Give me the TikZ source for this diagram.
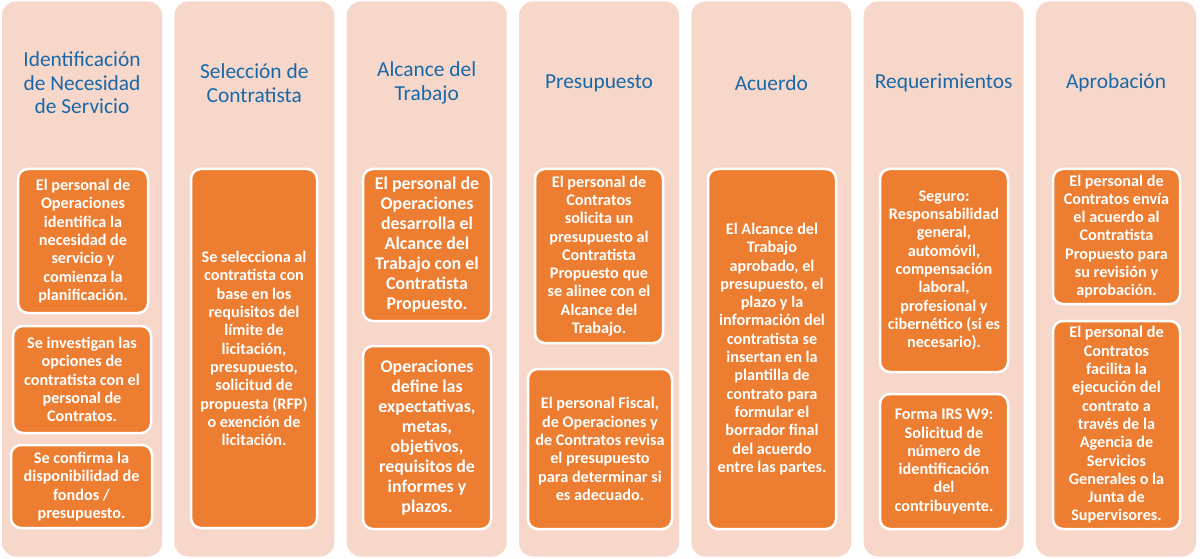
\documentclass[tikz,border=0pt]{standalone}
\usepackage{fontspec}
\setmainfont{Carlito}
\definecolor{peach}{RGB}{248,215,203}
\definecolor{orng}{RGB}{237,125,49}
\definecolor{ttlblue}{RGB}{24,104,168}
\begin{document}
\begin{tikzpicture}
[
	x=1pt,y=-1pt,
	col/.style={rectangle,rounded corners=14,fill=peach,minimum width=160,minimum height=555,inner sep=0},
	ttl/.style={align=center,text=ttlblue,font=\fontsize{21.4}{23.5}\selectfont},
	bx/.style={rectangle,rounded corners=10,draw=white,line width=2.5,fill=orng,text=white,align=center,inner sep=0,
		font=\fontsize{16.2}{18.3}\selectfont\bfseries},
	bxl/.style={bx,font=\fontsize{17.9}{20}\selectfont\bfseries}
]
\useasboundingbox (0,0) rectangle (1200,559);

% columns
\node[col] (c1) at (82,279) {};
\node[col] (c2) at (254.3,279) {};
\node[col] (c3) at (426.7,279) {};
\node[col] (c4) at (599,279) {};
\node[col] (c5) at (771.3,279) {};
\node[col] (c6) at (943.7,279) {};
\node[col] (c7) at (1116,279) {};

% titles
\node[ttl] (t1) at (82,83) {Identificación\\de Necesidad\\de Servicio};
\node[ttl] (t2) at (254.3,83) {Selección de\\Contratista};
\node[ttl] (t3) at (426.7,83) {Alcance del\\Trabajo};
\node[ttl] (t4) at (599,83) {Presupuesto};
\node[ttl] (t5) at (771.3,83) {Acuerdo};
\node[ttl] (t6) at (943.7,83) {Requerimientos};
\node[ttl] (t7) at (1116,83) {Aprobación};

% boxes
\node[bx,minimum width=130,minimum height=144] (b11) at (83,241) {El personal de\\Operaciones\\identifica la\\necesidad de\\servicio y\\comienza la\\planificación.};
\node[bx,minimum width=138,minimum height=107] (b12) at (82,379.5) {Se investigan las\\opciones de\\contratista con el\\personal de\\Contratos.};
\node[bx,minimum width=141,minimum height=83] (b13) at (81.5,486.5) {Se confirma la\\disponibilidad de\\fondos /\\presupuesto.};

\node[bx,minimum width=126,minimum height=359] (b21) at (254,348.5) {Se selecciona al\\contratista con\\base en los\\requisitos del\\límite de\\licitación,\\presupuesto,\\solicitud de\\propuesta (RFP)\\o exención de\\licitación.};

\node[bxl,minimum width=128,minimum height=152] (b31) at (427,245) {El personal de\\Operaciones\\desarrolla el\\Alcance del\\Trabajo con el\\Contratista\\Propuesto.};
\node[bxl,minimum width=128,minimum height=183] (b32) at (427,437.5) {Operaciones\\define las\\expectativas,\\metas,\\objetivos,\\requisitos de\\informes y\\plazos.};

\node[bx,minimum width=128,minimum height=174] (b41) at (599,256) {El personal de\\Contratos\\solicita un\\presupuesto al\\Contratista\\Propuesto que\\se alinee con el\\Alcance del\\Trabajo.};
\node[bx,minimum width=144,minimum height=160] (b42) at (600,449) {El personal Fiscal,\\de Operaciones y\\de Contratos revisa\\el presupuesto\\para determinar si\\es adecuado.};

\node[bx,minimum width=128,minimum height=360] (b51) at (772,349) {El Alcance del\\Trabajo\\aprobado, el\\presupuesto, el\\plazo y la\\información del\\contratista se\\insertan en la\\plantilla de\\contrato para\\formular el\\borrador final\\del acuerdo\\entre las partes.};

\node[bx,minimum width=128,minimum height=203] (b61) at (944,270.5) {Seguro:\\Responsabilidad\\general,\\automóvil,\\compensación\\laboral,\\profesional y\\cibernético (si es\\necesario).};
\node[bx,minimum width=128,minimum height=135] (b62) at (944,461.5) {Forma IRS W9:\\Solicitud de\\número de\\identificación\\del\\contribuyente.};

\node[bx,minimum width=127,minimum height=135] (b71) at (1116.5,236.5) {El personal de\\Contratos envía\\el acuerdo al\\Contratista\\Propuesto para\\su revisión y\\aprobación.};
\node[bx,minimum width=127,minimum height=208] (b72) at (1116.5,425) {El personal de\\Contratos\\facilita la\\ejecución del\\contrato a\\través de la\\Agencia de\\Servicios\\Generales o la\\Junta de\\Supervisores.};

\end{tikzpicture}
\end{document}
